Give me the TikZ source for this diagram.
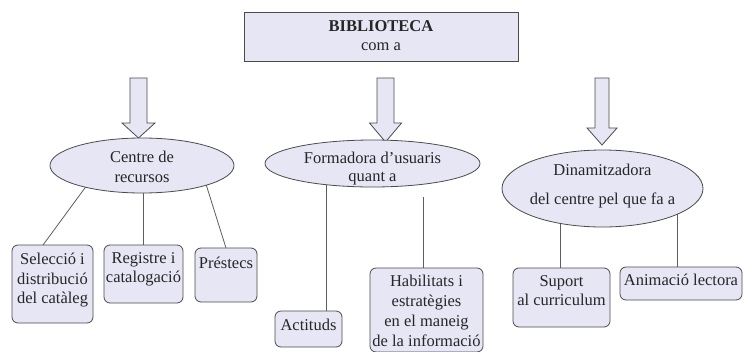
\documentclass[tikz,border=0pt]{standalone}
\usepackage{fontspec}
\setmainfont{Liberation Serif}
\usetikzlibrary{shapes.geometric,calc}
\definecolor{lav}{RGB}{230,230,245}
\definecolor{edge}{RGB}{75,75,75}
\begin{document}
\begin{tikzpicture}[x=1pt,y=-1pt,
  every node/.style={inner sep=0pt,outer sep=0pt},
  txt/.style={align=center,font=\fontsize{16.5}{19.5}\selectfont,text=black!85},
  topbox/.style={draw=edge,line width=0.9pt,fill=lav,rectangle},
  oval/.style={draw=edge,line width=0.8pt,fill=lav,ellipse},
  leaf/.style={draw=edge,line width=0.8pt,fill=lav,rectangle,rounded corners=6pt},
  link/.style={draw=edge!90,line width=0.8pt},
  barrow/.style={draw=edge,line width=0.8pt,fill=lav,line join=miter}]
\useasboundingbox (0,0) rectangle (746,351);
% top box
\node[topbox,minimum width=274pt,minimum height=49pt] (top) at (381,36.5) {};
\node[txt] (toptxt) at (381,35.5) {\textbf{BIBLIOTECA}\\com a};
% block arrows
\newcommand\blockarrow[6]{% cx, top, heady, tip, shaft half, head half
  \draw[barrow] (#1-#5,#2) -- (#1+#5,#2) -- (#1+#5,#3) -- (#1+#6,#3) -- (#1,#4)
     -- (#1-#6,#3) -- (#1-#5,#3) -- cycle;}
\blockarrow{138.5}{78}{123}{138}{8.5}{16.5}
\blockarrow{385.5}{78}{123}{142}{8.5}{16}
\blockarrow{602}{78}{128}{145}{7}{15}
% ellipses
\node[oval,minimum width=184pt,minimum height=55pt] (e1) at (142,165.5) {};
\node[txt] (e1t) at (142,167) {Centre de\\recursos};
\node[oval,minimum width=215pt,minimum height=47pt] (e2) at (372.5,163.5) {};
\node[txt] (e2t) at (372.5,168.5) {Formadora d’usuaris\\[-2pt]quant a};
\node[oval,minimum width=201pt,minimum height=77pt] (e3) at (602.5,188.5) {};
\node[txt] (e3t) at (602.5,186) {Dinamitzadora\\[9pt]del centre pel que fa a};
% leaf boxes
\node[leaf,minimum width=81pt,minimum height=78pt] (b1) at (52.5,284) {};
\node[txt] (b1t) at (52.5,280.5) {Selecció i\\distribució\\del catàleg};
\node[leaf,minimum width=79pt,minimum height=58pt] (b2) at (143.5,274) {};
\node[txt] (b2t) at (143.5,269.5) {Registre i\\catalogació};
\node[leaf,minimum width=62pt,minimum height=54pt] (b3) at (226,275) {};
\node[txt] (b3t) at (226,262.5) {Préstecs};
\node[leaf,minimum width=67pt,minimum height=36pt] (b4) at (308.5,329) {};
\node[txt] (b4t) at (308.5,325) {Actituds};
\node[leaf,minimum width=113pt,minimum height=84pt] (b5) at (426.5,310) {};
\node[txt,font=\fontsize{16.5}{20.2}\selectfont] (b5t) at (426.5,311) {Habilitats i\\estratègies\\en el maneig\\de la informació};
\node[leaf,minimum width=97pt,minimum height=59pt] (b6) at (561.5,297.5) {};
\node[txt] (b6t) at (561.5,290.5) {Suport\\al curriculum};
\node[leaf,minimum width=122pt,minimum height=33pt] (b7) at (681,283.5) {};
\node[txt] (b7t) at (681,279.5) {Animació lectora};
% connectors
\coordinate (c2b) at (423,197);
\draw[link] (e1.-159) -- ([xshift=-9.5pt]b1.north);
\draw[link] (b2.north |- e1.south) -- (b2.north);
\draw[link] (e1.-17.5) -- (b3.north);
\draw[link] (e2.-155) -- (e2.-155 |- b4.north);
\draw[link] (c2b) -- (c2b |- b5.north);
\draw[link] (e3.-140.6) -- (e3.-140.6 |- b6.north);
\draw[link] (e3.-19.6) -- (e3.-19.6 |- b7.north);
\end{tikzpicture}
\end{document}
